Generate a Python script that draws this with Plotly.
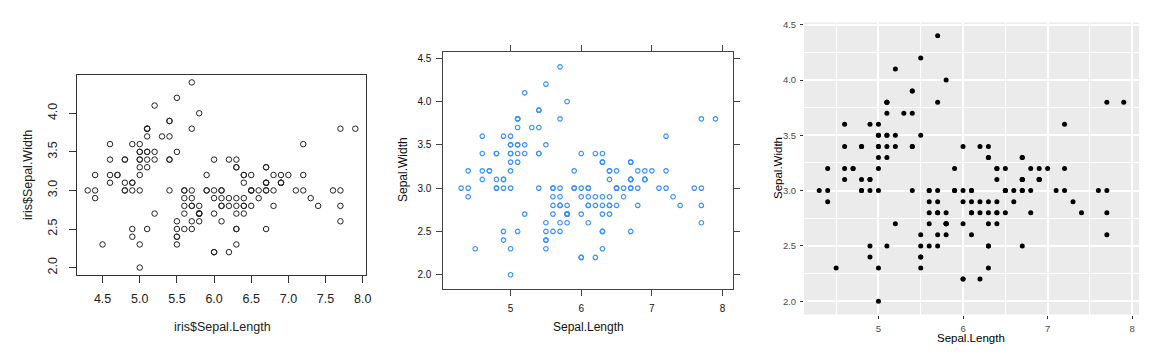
import plotly.graph_objects as go

# iris data (Sepal.Length, Sepal.Width)
sepal_length = [
    5.1,4.9,4.7,4.6,5.0,5.4,4.6,5.0,4.4,4.9,5.4,4.8,4.8,4.3,5.8,5.7,5.4,5.1,5.7,5.1,
    5.4,5.1,4.6,5.1,4.8,5.0,5.0,5.2,5.2,4.7,4.8,5.4,5.2,5.5,4.9,5.0,5.5,4.9,4.4,5.1,
    5.0,4.5,4.4,5.0,5.1,4.8,5.1,4.6,5.3,5.0,
    7.0,6.4,6.9,5.5,6.5,5.7,6.3,4.9,6.6,5.2,5.0,5.9,6.0,6.1,5.6,6.7,5.6,5.8,6.2,5.6,
    5.9,6.1,6.3,6.1,6.4,6.6,6.8,6.7,6.0,5.7,5.5,5.5,5.8,6.0,5.4,6.0,6.7,6.3,5.6,5.5,
    5.5,6.1,5.8,5.0,5.6,5.7,5.7,6.2,5.1,5.7,
    6.3,5.8,7.1,6.3,6.5,7.6,4.9,7.3,6.7,7.2,6.5,6.4,6.8,5.7,5.8,6.4,6.5,7.7,7.7,6.0,
    6.9,5.6,7.7,6.3,6.7,7.2,6.2,6.1,6.4,7.2,7.4,7.9,6.4,6.3,6.1,7.7,6.3,6.4,6.0,6.9,
    6.7,6.9,5.8,6.8,6.7,6.7,6.3,6.5,6.2,5.9,
]
sepal_width = [
    3.5,3.0,3.2,3.1,3.6,3.9,3.4,3.4,2.9,3.1,3.7,3.4,3.0,3.0,4.0,4.4,3.9,3.5,3.8,3.8,
    3.4,3.7,3.6,3.3,3.4,3.0,3.4,3.5,3.4,3.2,3.1,3.4,4.1,4.2,3.1,3.2,3.5,3.6,3.0,3.4,
    3.5,2.3,3.2,3.5,3.8,3.0,3.8,3.2,3.7,3.3,
    3.2,3.2,3.1,2.3,2.8,2.8,3.3,2.4,2.9,2.7,2.0,3.0,2.2,2.9,2.9,3.1,3.0,2.7,2.2,2.5,
    3.2,2.8,2.5,2.8,2.9,3.0,2.8,3.0,2.9,2.6,2.4,2.4,2.7,2.7,3.0,3.4,3.1,2.3,3.0,2.5,
    2.6,3.0,2.6,2.3,2.7,3.0,2.9,2.9,2.5,2.8,
    3.3,2.7,3.0,2.9,3.0,3.0,2.5,2.9,2.5,3.6,3.2,2.7,3.0,2.5,2.8,3.2,3.0,3.8,2.6,2.2,
    3.2,2.8,2.8,2.7,3.3,3.2,2.8,3.0,2.8,3.0,2.8,3.8,2.8,2.8,2.6,3.0,3.4,3.1,3.0,3.1,
    3.1,3.1,2.7,3.2,3.3,3.0,2.5,3.0,3.4,3.0,
]

x_ticks_base = [4.5, 5.0, 5.5, 6.0, 6.5, 7.0, 7.5, 8.0]
y_ticks_base = [2.0, 2.5, 3.0, 3.5, 4.0]
x_ticks_int = [5, 6, 7, 8]
y_ticks_half = [2.0, 2.5, 3.0, 3.5, 4.0, 4.5]

OFF = 8  # default page body margin
W, H = 1159 - OFF, 358 - OFF
def fx(px):
    return (px - OFF) / W
def fy(py):
    return (H - (py - OFF)) / H

FONT = "Liberation Sans, Arial, sans-serif"

fig = go.Figure()

# Panel 1: base R
fig.add_trace(go.Scatter(
    x=sepal_length, y=sepal_width, mode="markers", xaxis="x", yaxis="y",
    marker=dict(symbol="circle-open", size=5.5, color="#222222", line=dict(width=1)),
    showlegend=False, hoverinfo="skip"))
# Panel 2: lattice
fig.add_trace(go.Scatter(
    x=sepal_length, y=sepal_width, mode="markers", xaxis="x2", yaxis="y2",
    marker=dict(symbol="circle-open", size=4.5, color="#3a90ff", line=dict(width=1.2)),
    showlegend=False, hoverinfo="skip"))
# Panel 3: ggplot2
fig.add_trace(go.Scatter(
    x=sepal_length, y=sepal_width, mode="markers", xaxis="x3", yaxis="y3",
    marker=dict(symbol="circle", size=5, color="#000000"),
    showlegend=False, hoverinfo="skip"))

common = dict(zeroline=False, showgrid=False, fixedrange=True, automargin=False)

fig.update_layout(
    width=W, height=H,
    margin=dict(l=0, r=0, t=0, b=0),
    paper_bgcolor="white", plot_bgcolor="white",
    font=dict(family=FONT, color="#000000"),
    # base R
    xaxis=dict(domain=[fx(77), fx(366)], range=[4.156, 8.044], anchor="y",
               tickvals=x_ticks_base, ticktext=[f"{v:.1f}" for v in x_ticks_base],
               ticks="outside", ticklen=7, tickcolor="#333333",
               showline=True, linecolor="#333333", linewidth=1, mirror=True,
               tickfont=dict(size=12.5, color="#222222"), ticklabelstandoff=5, **common),
    yaxis=dict(domain=[fy(275), fy(75)], range=[1.904, 4.496], anchor="x",
               tickvals=y_ticks_base, ticktext=[f"{v:.1f}" for v in y_ticks_base],
               ticks="outside", ticklen=7, tickcolor="#333333", tickangle=-90,
               showline=True, linecolor="#333333", linewidth=1, mirror=True,
               tickfont=dict(size=12.5, color="#222222"), ticklabelstandoff=7, **common),
    # lattice
    xaxis2=dict(domain=[fx(443.3), fx(733.3)], range=[4.048, 8.152], anchor="y2",
                tickvals=x_ticks_int, ticktext=[str(v) for v in x_ticks_int],
                ticks="outside", ticklen=6, tickcolor="#444444",
                showline=True, linecolor="#444444", linewidth=1, mirror="allticks",
                tickfont=dict(size=10, color="#111111"), ticklabelstandoff=4, **common),
    yaxis2=dict(domain=[fy(289.3), fy(52.3)], range=[1.832, 4.568], anchor="x2",
                tickvals=y_ticks_half, ticktext=[f"{v:.1f}" for v in y_ticks_half],
                ticks="outside", ticklen=6, tickcolor="#444444",
                showline=True, linecolor="#444444", linewidth=1, mirror="allticks",
                tickfont=dict(size=10, color="#111111"), ticklabelstandoff=3, **common),
    # ggplot2
    xaxis3=dict(domain=[fx(804), fx(1139)], range=[4.12, 8.08], anchor="y3",
                tickvals=x_ticks_int, ticktext=[str(v) for v in x_ticks_int],
                ticks="outside", ticklen=3, tickcolor="#333333",
                showline=False, zeroline=False, fixedrange=True, automargin=False,
                showgrid=True, gridcolor="white", gridwidth=1.6,
                minor=dict(tickvals=[4.5, 5.5, 6.5, 7.5], showgrid=True,
                           gridcolor="white", gridwidth=0.8, ticks=""),
                tickfont=dict(size=9.5, color="#4D4D4D"), ticklabelstandoff=2),
    yaxis3=dict(domain=[fy(314.5), fy(22.5)], range=[1.88, 4.52], anchor="x3",
                tickvals=y_ticks_half, ticktext=[f"{v:.1f}" for v in y_ticks_half],
                ticks="outside", ticklen=3, tickcolor="#333333",
                showline=False, zeroline=False, fixedrange=True, automargin=False,
                showgrid=True, gridcolor="white", gridwidth=1.6,
                minor=dict(tickvals=[2.25, 2.75, 3.25, 3.75, 4.25], showgrid=True,
                           gridcolor="white", gridwidth=0.8, ticks=""),
                tickfont=dict(size=9.5, color="#4D4D4D"), ticklabelstandoff=2),
    shapes=[dict(type="rect", xref="x3 domain", yref="y3 domain", x0=0, x1=1, y0=0, y1=1,
                 fillcolor="#EBEBEB", line=dict(width=0), layer="below")],
)

annotations = [
    dict(text="iris$Sepal.Length", x=fx(222), y=fy(327), size=12.5, angle=0, color="#222222"),
    dict(text="iris$Sepal.Width", x=fx(28), y=fy(175), size=12.5, angle=-90, color="#222222"),
    dict(text="Sepal.Length", x=fx(588), y=fy(327), size=12, angle=0, color="#111111"),
    dict(text="Sepal.Width", x=fx(403), y=fy(170), size=12, angle=-90, color="#111111"),
    dict(text="Sepal.Length", x=fx(971), y=fy(338), size=11.5, angle=0, color="#000000"),
    dict(text="Sepal.Width", x=fx(778), y=fy(168), size=11.5, angle=-90, color="#000000"),
]
for a in annotations:
    fig.add_annotation(text=a["text"], x=a["x"], y=a["y"], xref="paper", yref="paper",
                       xanchor="center", yanchor="middle", showarrow=False,
                       textangle=a["angle"], font=dict(size=a["size"], color=a["color"], family=FONT))

fig.write_html("out.html")
